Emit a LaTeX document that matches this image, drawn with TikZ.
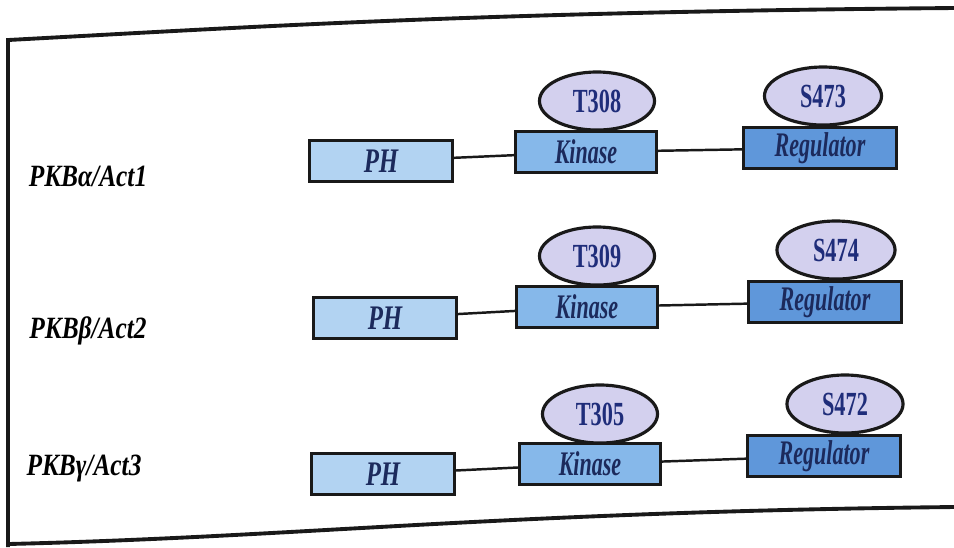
\documentclass[tikz,border=0pt]{standalone}
\usepackage{fontspec}
\setmainfont{Liberation Serif}
\usepackage{graphicx}
\usepackage{tikz}
\usetikzlibrary{shapes.geometric}

\definecolor{phblue}{HTML}{B2D3F2}
\definecolor{kinblue}{HTML}{86B8EA}
\definecolor{regblue}{HTML}{5F97DA}
\definecolor{sitelilac}{HTML}{D3D0EE}
\definecolor{inkblue}{HTML}{1C2A5C}
\definecolor{sitenavy}{HTML}{1F2D7A}

\newcommand\condense[2][0.64]{\scalebox{#1}[1]{#2}}

\tikzset{
  dombox/.style={draw=black!90,line width=0.9pt,inner sep=0pt,minimum height=0.41cm,
    font=\fontsize{9.8}{10}\selectfont\bfseries\itshape,text=inkblue},
  phbox/.style={dombox,fill=phblue,minimum width=1.43cm},
  kinbox/.style={dombox,fill=kinblue,minimum width=1.41cm},
  regbox/.style={dombox,fill=regblue,minimum width=1.53cm},
  site/.style={ellipse,draw=black!90,line width=0.9pt,fill=sitelilac,inner sep=0pt,
    minimum width=1.15cm,minimum height=0.58cm,
    font=\fontsize{9.6}{10}\selectfont\bfseries,text=sitenavy},
  isoform/.style={font=\fontsize{8.8}{9}\selectfont\bfseries\itshape},
  link/.style={line width=0.7pt,black!90},
  frame/.style={line width=1.1pt,black!90}
}

\begin{document}
\begin{tikzpicture}[x=0.01cm,y=-0.01cm]
    \useasboundingbox (0,0) rectangle (954,547);
    % page frame
    \draw[frame] (8,547) -- (8,40) .. controls (250,27) and (480,12) .. (954,8);
    \draw[frame] (8,544) .. controls (300,537) and (500,512) .. (954,507);

    % alpha
    \node (lab1) at (88,176)[isoform]{\condense[0.82]{PKBα/Act1}};
    \node (ph1) at (381,161)[phbox]{\condense[0.72]{PH}};
    \node (kin1) at (586,152)[kinbox]{\condense{Kinase}};
    \node (reg1) at (820,148)[regbox]{\condense{Regulator}};
    \node (t1) at (597,101)[site]{\condense[0.66]{T308}};
    \node (s1) at (823,96)[site,minimum width=1.17cm]{\condense[0.66]{S473}};
    \draw[link] (ph1) -- (kin1);
    \draw[link] (kin1) -- (reg1);

    % beta
    \node (lab2) at (88,331)[isoform]{\condense[0.82]{PKBβ/Act2}};
    \node (ph2) at (385,318)[phbox]{\condense[0.72]{PH}};
    \node (kin2) at (587,307)[kinbox]{\condense{Kinase}};
    \node (reg2) at (825,302)[regbox]{\condense{Regulator}};
    \node (t2) at (597,256)[site]{\condense[0.66]{T309}};
    \node (s2) at (836,250)[site,minimum width=1.18cm]{\condense[0.66]{S474}};
    \draw[link] (ph2) -- (kin2);
    \draw[link] (kin2) -- (reg2);

    % gamma
    \node (lab3) at (84,469)[isoform]{\condense[0.82]{PKBγ/Act3}};
    \node (ph3) at (383,474)[phbox]{\condense[0.72]{PH}};
    \node (kin3) at (590,464)[kinbox]{\condense{Kinase}};
    \node (reg3) at (824,456)[regbox]{\condense{Regulator}};
    \node (t3) at (600,414)[site]{\condense[0.66]{T305}};
    \node (s3) at (845,404)[site,minimum width=1.16cm]{\condense[0.66]{S472}};
    \draw[link] (ph3) -- (kin3);
    \draw[link] (kin3) -- (reg3);
\end{tikzpicture}
\end{document}
